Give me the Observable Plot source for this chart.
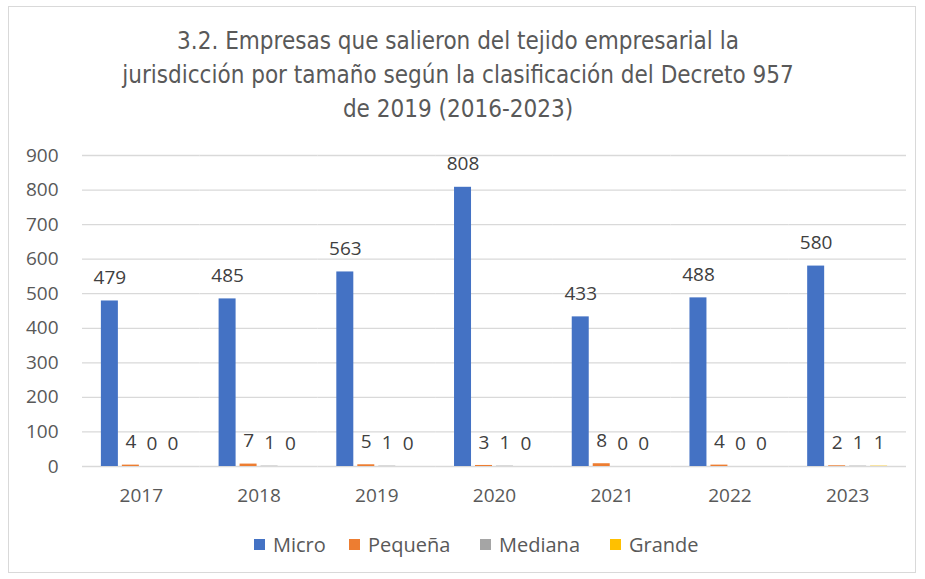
<!DOCTYPE html>
<html>
<head>
<meta charset="utf-8">
<script src="https://cdn.jsdelivr.net/npm/d3@7"></script>
<script src="https://cdn.jsdelivr.net/npm/@observablehq/plot@0.6"></script>
<style>
  body { margin: 0; background: #fff; }
  #wrap { position: relative; width: 925px; height: 579px; overflow: hidden; background: #fff; }
  #frame { position: absolute; left: 8px; top: 6px; width: 908px; height: 567px; border: 1px solid #d9d9d9; box-sizing: border-box; }
  #title { position: absolute; left: 0; top: 24px; width: 916px; text-align: center; font-family: "Liberation Sans Narrow", "DejaVu Sans Condensed", sans-serif; font-size: 24px; line-height: 34px; color: #595959; }
  #plot { position: absolute; left: 0; top: 140px; }
  #legend { position: absolute; left: 0; top: 531px; width: 925px; height: 26px; font-family: "Open Sans", sans-serif; font-size: 20px; color: #595959; }
  .item { position: absolute; top: 0; display: flex; align-items: center; height: 26px; }
  .sw { width: 11px; height: 11px; margin-right: 8px; }
</style>
</head>
<body>
<div id="wrap">
  <div id="frame"></div>
  <div id="title">3.2. Empresas que salieron del tejido empresarial la<br>jurisdicción por tamaño según la clasificación del Decreto 957<br>de 2019 (2016-2023)</div>
  <div id="plot"></div>
  <div id="legend"></div>
</div>
<script>
const years = ["2017", "2018", "2019", "2020", "2021", "2022", "2023"];
const series = ["Micro", "Pequeña", "Mediana", "Grande"];
const colors = ["#4472C4", "#ED7D31", "#A5A5A5", "#FFC000"];
const micro = [479, 485, 563, 808, 433, 488, 580];
const pequena = [4, 7, 5, 3, 8, 4, 2];
const mediana = [0, 1, 1, 1, 0, 0, 1];
const grande = [0, 0, 0, 0, 0, 0, 1];
const yTicks = [0, 100, 200, 300, 400, 500, 600, 700, 800, 900];

// legend layout (pixel positions of each entry)
const legendLeft = [254, 349, 480, 610];

const valuesBySeries = [micro, pequena, mediana, grande];
const data = [];
years.forEach((yr, i) => {
  series.forEach((s, j) => {
    data.push({ year: yr, series: s, value: valuesBySeries[j][i] });
  });
});

const chart = Plot.plot({
  width: 925,
  height: 380,
  marginLeft: 82,
  marginRight: 19,
  marginTop: 15,
  marginBottom: 54,
  style: { fontFamily: "Open Sans, sans-serif", fontSize: "19px", color: "#595959", background: "transparent" },
  fx: { domain: years, padding: 0, round: false, label: null },
  x: { domain: series, axis: null, paddingInner: 0.19, paddingOuter: 0.9, round: false },
  y: { domain: [0, 900], label: null },
  color: { domain: series, range: colors },
  marks: [
    Plot.ruleY(yTicks, { stroke: "#d9d9d9", strokeWidth: 1.3 }),
    Plot.axisY({ ticks: yTicks, tickSize: 0, tickPadding: 24, label: null, fontSize: 19, fill: "#595959" }),
    Plot.axisFx({ anchor: "bottom", tickSize: 0, tickPadding: 22, label: null, fontSize: 19, fill: "#595959" }),
    Plot.barY(data, { fx: "year", x: "series", y: "value", fill: "series" }),
    Plot.text(data, { fx: "year", x: "series", y: "value", text: d => String(d.value), dy: -23, fill: "#404040", fontSize: 19 })
  ]
});
document.getElementById("plot").appendChild(chart);

const legend = document.getElementById("legend");
series.forEach((s, j) => {
  const item = document.createElement("div");
  item.className = "item";
  item.style.left = legendLeft[j] + "px";
  const sw = document.createElement("div");
  sw.className = "sw";
  sw.style.background = colors[j];
  const t = document.createElement("span");
  t.textContent = s;
  item.appendChild(sw);
  item.appendChild(t);
  legend.appendChild(item);
});
</script>
</body>
</html>
